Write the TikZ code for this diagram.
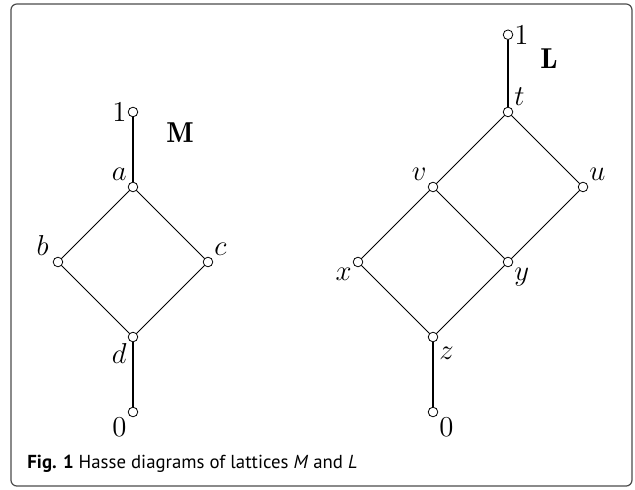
\documentclass[tikz,border=0pt]{standalone}
\usepackage{fontspec}
\setsansfont{PT Sans}

\begin{document}
\begin{tikzpicture}[x=37.5pt, y=37.5pt,
  font=\Large,
  vtx/.style={circle, draw, thin, fill=white, inner sep=0pt, minimum size=4.8pt},
  tag/.style={inner sep=3pt},
  cover/.style={thin},
  chain/.style={line width=1pt}]
  \useasboundingbox (-1.773,-1.027) rectangle (6.693,5.493);
  \draw[black!70, line width=0.6pt, rounded corners=3pt] (-1.627,-0.987) rectangle (6.653,5.44);

  % lattice M
  \node[vtx] (m1) at (0,4) {};
  \node[vtx] (ma) at (0,3) {};
  \node[vtx] (mb) at (-1,2) {};
  \node[vtx] (mc) at (1,2) {};
  \node[vtx] (md) at (0,1) {};
  \node[vtx] (m0) at (0,0) {};

  \draw[chain] (m1) -- (ma);
  \draw[cover] (ma) -- (mb) -- (md) -- (mc) -- (ma);
  \draw[chain] (md) -- (m0);

  \node[tag, left]        (lm1) at (m1) {$1$};
  \node[tag, above left]  (lma) at (ma) {$a$};
  \node[tag, above left]  (lmb) at ([xshift=-1.5pt]mb) {$b$};
  \node[tag, above right] (lmc) at (mc) {$c$};
  \node[tag, below left]  (lmd) at (md) {$d$};
  \node[tag, below left]  (lm0) at (m0) {$0$};
  \node (mname) at (0.627,3.72) {$\mathbf{M}$};

  % lattice L
  \node[vtx] (l1) at (5,5.03) {};
  \node[vtx] (lt) at (5,4) {};
  \node[vtx] (lv) at (4,3) {};
  \node[vtx] (lu) at (6,3) {};
  \node[vtx] (lx) at (3,2) {};
  \node[vtx] (ly) at (5,2) {};
  \node[vtx] (lz) at (4,1) {};
  \node[vtx] (l0) at (4,0) {};

  \draw[chain] (l1) -- (lt);
  \draw[cover] (lt) -- (lv) -- (lx) -- (lz) -- (ly) -- (lu) -- (lt);
  \draw[cover] (lv) -- (ly);
  \draw[chain] (lz) -- (l0);

  \node[tag, right]       (ll1) at (l1) {$1$};
  \node[tag, above right] (llt) at (lt) {$t$};
  \node[tag, above left]  (llv) at (lv) {$v$};
  \node[tag, above right] (llu) at (lu) {$u$};
  \node[tag, below left]  (llx) at (lx) {$x$};
  \node[tag, below right] (lly) at (ly) {$y$};
  \node[tag, below right] (llz) at ([yshift=-2pt]lz) {$z$};
  \node[tag, below right] (ll0) at (l0) {$0$};
  \node (lname) at (5.547,4.707) {$\mathbf{L}$};

  \node[anchor=base west, inner sep=0pt, font=\sffamily\fontsize{9.4}{11}\selectfont]
    (caption) at (-1.413,-0.747) {\textbf{Fig. 1} Hasse diagrams of lattices \textit{M} and \textit{L}};
\end{tikzpicture}
\end{document}
